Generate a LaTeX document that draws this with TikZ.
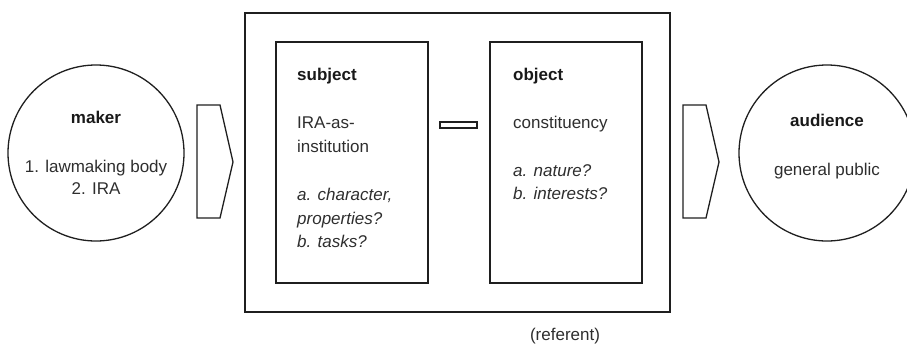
\documentclass[tikz,border=0pt]{standalone}
\usepackage{fontspec}
\setmainfont{Liberation Sans}
\begin{document}
\begin{tikzpicture}[x=1pt,y=-1pt,
  ink/.style={draw=black!88,line width=1.3pt},
  round/.style={ink,circle,minimum size=176pt,inner sep=0pt},
  panel/.style={ink,rectangle,inner sep=0pt},
  txt/.style={font=\fontsize{17}{24}\selectfont,text=black!82,inner sep=0pt,anchor=base},
  txtl/.style={txt,anchor=base west},
  head/.style={txt,font=\fontsize{17}{24}\selectfont\bfseries,text=black!90},
  headl/.style={head,anchor=base west},
  emph/.style={txtl,font=\fontsize{17}{24}\selectfont\itshape}
]
\useasboundingbox (0,0) rectangle (907,346);

% maker
\node[round] (maker) at (96,153) {};
\node[head] (makerT) at (96,123) {maker};
\node[txt] (maker1) at (96,172) {1. lawmaking body};
\node[txt] (maker2) at (96,194) {2. IRA};

% audience
\node[round] (aud) at (827,153) {};
\node[head] (audT) at (827,126) {audience};
\node[txt] (aud1) at (827,175) {general public};

% referent frame and its two panels
\node[panel,minimum width=425pt,minimum height=299pt] (ref) at (457.5,162.5) {};
\node[panel,minimum width=152pt,minimum height=241pt] (subj) at (352,162.5) {};
\node[panel,minimum width=152pt,minimum height=241pt] (obj) at (566,162.5) {};
\node[panel,minimum width=37pt,minimum height=6pt] (bar) at (458.5,125) {};

% subject texts
\node[headl] (subjT) at (297,80) {subject};
\node[txtl] (subj1) at (297,128) {IRA-as-};
\node[txtl] (subj2) at (297,152) {institution};
\node[emph] (subj3) at (297,200) {a. character,};
\node[emph] (subj4) at (297,224) {properties?};
\node[emph] (subj5) at (297,247) {b. tasks?};

% object texts
\node[headl] (objT) at (513,80) {object};
\node[txtl] (obj1) at (513,128) {constituency};
\node[emph] (obj2) at (513,176) {a. nature?};
\node[emph] (obj3) at (513,199) {b. interests?};

\node[txt] (refT) at (565,340) {(referent)};

% chevron arrows between the parts
\coordinate (la) at (197,105);
\draw[ink,line join=miter] (la) -- ++(23,0) -- ++(13,57) -- ++(-13,56) -- ++(-23,0) -- cycle;
\coordinate (ra) at (683,105);
\draw[ink,line join=miter] (ra) -- ++(23,0) -- ++(13,57) -- ++(-13,56) -- ++(-23,0) -- cycle;
\end{tikzpicture}
\end{document}
